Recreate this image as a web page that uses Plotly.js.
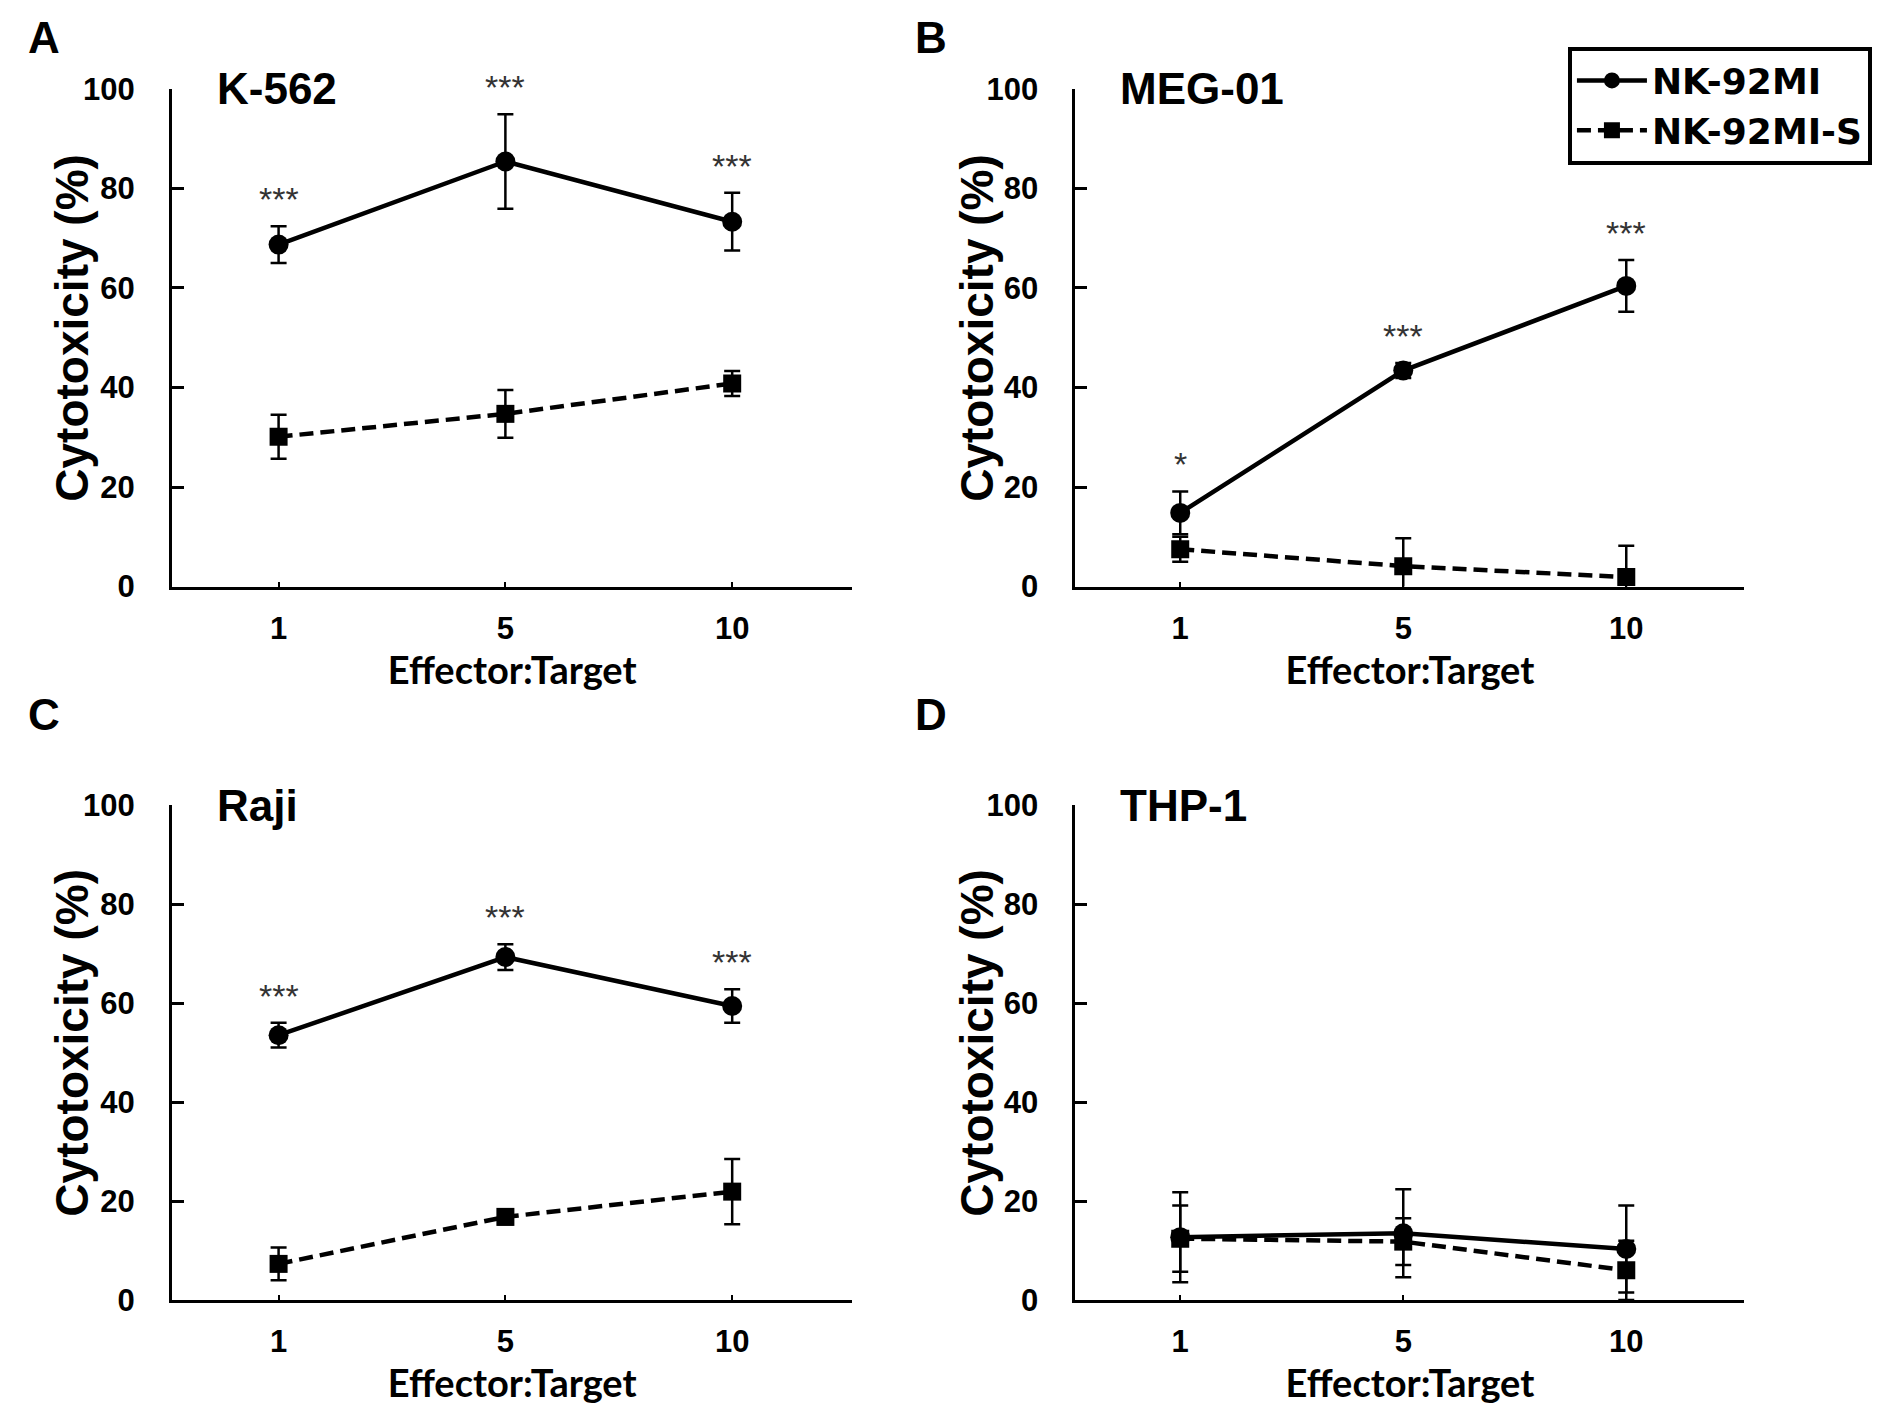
<!DOCTYPE html>
<html>
<head>
<meta charset="utf-8">
<script src="https://cdn.plot.ly/plotly-3.0.1.min.js"></script>
<style>
  html, body { margin: 0; padding: 0; background: #fff; }
  #chart { width: 1890px; height: 1410px; }
</style>
</head>
<body>
<div id="chart"></div>
<script>
// effector:target ratios on the x axis
const ratios = ['1', '5', '10'];
const cellLines = ['K-562', 'MEG-01', 'Raji', 'THP-1'];
const panelLetters = ['A', 'B', 'C', 'D'];

// NK-92MI, mean and error per panel
const nkMean = [
  [68.7, 85.4, 73.3],
  [14.8, 43.4, 60.4],
  [53.5, 69.3, 59.4],
  [12.7, 13.5, 10.3]
];
const nkErr = [
  [3.7, 9.5, 5.8],
  [4.3, 1.5, 5.2],
  [2.5, 2.6, 3.4],
  [9.1, 8.9, 8.8]
];

// NK-92MI-S
const nksMean = [
  [30.1, 34.7, 40.8],
  [7.5, 4.1, 1.9],
  [7.3, 16.8, 21.9],
  [12.4, 11.8, 6.0]
];
const nksErr = [
  [4.4, 4.8, 2.5],
  [2.5, 5.6, 6.3],
  [3.3, 1.5, 6.6],
  [6.7, 4.7, 6.0]
];

const signif = [
  ['***', '***', '***'],
  ['*', '***', '***'],
  ['***', '***', '***'],
  ['', '', '']
];

const FONT = 'Liberation Sans, Arial, sans-serif';

const xDomains = [[0.091, 0.451], [0.569, 0.923], [0.091, 0.451], [0.569, 0.923]];
const yDomains = [[0.584, 0.937], [0.584, 0.937], [0.078, 0.429], [0.078, 0.429]];

const data = [];
const annotations = [];
const layout = {
  width: 1890,
  height: 1410,
  margin: {l: 0, r: 0, t: 0, b: 0},
  paper_bgcolor: '#fff',
  plot_bgcolor: '#fff',
  font: {family: FONT, color: '#000'},
  showlegend: true,
  legend: {
    x: 0.8296, y: 0.967, xanchor: 'left', yanchor: 'top',
    bordercolor: '#000', borderwidth: 4,
    font: {family: 'DejaVu Sans, sans-serif', size: 36, weight: 'bold', color: '#000'},
    itemwidth: 70, tracegroupgap: 0
  },
  annotations: annotations
};

for (let i = 0; i < 4; i++) {
  const n = i === 0 ? '' : String(i + 1);
  const xa = 'x' + n, ya = 'y' + n;

  data.push({
    x: ratios, y: nkMean[i], xaxis: xa, yaxis: ya,
    type: 'scatter', mode: 'lines+markers', name: 'NK-92MI',
    showlegend: i === 1, legendgroup: 'nk',
    line: {color: '#000', width: 4.5},
    marker: {symbol: 'circle', size: 20, color: '#000'},
    error_y: {type: 'data', array: nkErr[i], visible: true, color: '#000', thickness: 2.5, width: 8}
  });
  data.push({
    x: ratios, y: nksMean[i], xaxis: xa, yaxis: ya,
    type: 'scatter', mode: 'lines+markers', name: 'NK-92MI-S',
    showlegend: i === 1, legendgroup: 'nks',
    line: {color: '#000', width: 4.5, dash: '14px,7px'},
    marker: {symbol: 'square', size: 18, color: '#000'},
    error_y: {type: 'data', array: nksErr[i], visible: true, color: '#000', thickness: 2.5, width: 8}
  });

  layout['xaxis' + n] = {
    domain: xDomains[i], anchor: ya, type: 'category',
    range: [-0.47, 2.53],
    showline: true, linewidth: 3, linecolor: '#000',
    ticks: 'inside', ticklen: 5, tickwidth: 2, tickcolor: '#000',
    ticklabelstandoff: 12,
    showgrid: false, zeroline: false,
    tickfont: {family: FONT, size: 31, weight: 'bold'},
    title: {text: 'Effector:Target', standoff: 0,
      font: {family: 'Lato, sans-serif', size: 38, weight: 'bold'}}
  };
  layout['yaxis' + n] = {
    domain: yDomains[i], anchor: xa,
    range: [0, 100], dtick: 20,
    showline: true, linewidth: 3, linecolor: '#000',
    ticks: 'inside', ticklen: 12, tickwidth: 3, tickcolor: '#000',
    ticklabelstandoff: 28,
    showgrid: false, zeroline: false,
    tickfont: {family: FONT, size: 31, weight: 'bold'}
  };

  // y title as a rotated annotation so its distance to the axis can be set
  annotations.push({
    xref: xa + ' domain', yref: ya + ' domain', x: -0.147, y: 0.52,
    xanchor: 'center', yanchor: 'middle', textangle: -90, showarrow: false,
    text: 'Cytotoxicity (%)', font: {family: FONT, size: 46, weight: 'bold'}
  });
  annotations.push({
    xref: xa + ' domain', yref: ya + ' domain', x: 0.063, y: 1.0,
    xanchor: 'left', yanchor: 'middle', showarrow: false,
    text: cellLines[i], font: {family: FONT, size: 44, weight: 'bold'}
  });
  annotations.push({
    xref: 'paper', yref: 'paper',
    x: [0.014, 0.483, 0.014, 0.483][i], y: [0.992, 0.992, 0.512, 0.512][i],
    xanchor: 'left', yanchor: 'top', showarrow: false,
    text: panelLetters[i], font: {family: FONT, size: 44, weight: 'bold'}
  });
  for (let j = 0; j < ratios.length; j++) {
    if (!signif[i][j]) continue;
    annotations.push({
      xref: xa, yref: ya, x: j, y: nkMean[i][j] + nkErr[i][j],
      xanchor: 'center', yanchor: 'bottom', yshift: 6, showarrow: false,
      text: signif[i][j], font: {family: FONT, size: 34, color: '#333'}
    });
  }
}

Plotly.newPlot('chart', data, layout, {staticPlot: true});
</script>
</body>
</html>
